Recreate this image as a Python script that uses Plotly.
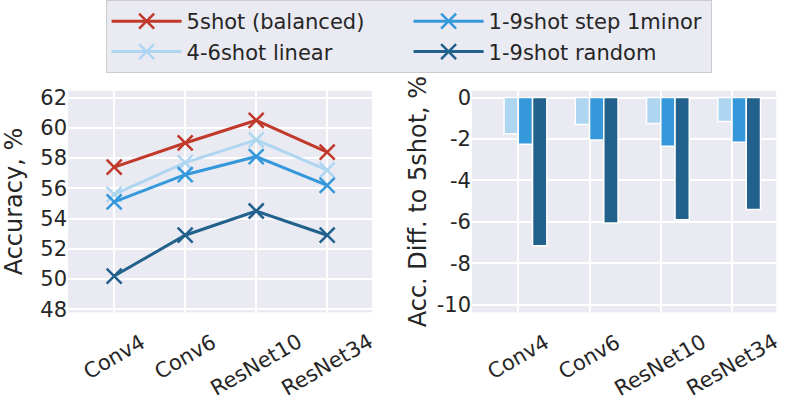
"""
accuracy vs backbone, imbalanced support sets
"""

import plotly.graph_objects as go

BG_CLR = "#eaeaf2"
TXT_CLR = "#262626"
FONT = "DejaVu Sans"

backbones = ["Conv4", "Conv6", "ResNet10", "ResNet34"]
series_names = ["5shot (balanced)", "4-6shot linear", "1-9shot step 1minor", "1-9shot random"]
series_colors = ["#c0392b", "#aed6f1", "#3498db", "#21618c"]

# left panel: accuracy, %
acc_5shot = [57.4, 59.0, 60.5, 58.4]
acc_4_6_linear = [55.6, 57.7, 59.2, 57.2]
acc_1_9_step = [55.1, 56.9, 58.1, 56.2]
acc_1_9_random = [50.2, 52.9, 54.5, 52.9]

# right panel: difference to 5shot, %
diff_5shot = [0, 0, 0, 0]
diff_4_6_linear = [-1.75, -1.3, -1.25, -1.15]
diff_1_9_step = [-2.25, -2.05, -2.35, -2.15]
diff_1_9_random = [-7.15, -6.05, -5.9, -5.4]

acc_ticks = [48, 50, 52, 54, 56, 58, 60, 62]
diff_ticks = [-10, -8, -6, -4, -2, 0]

acc_series = [acc_5shot, acc_4_6_linear, acc_1_9_step, acc_1_9_random]
diff_series = [diff_5shot, diff_4_6_linear, diff_1_9_step, diff_1_9_random]
legend_rank = [1, 3, 2, 4]  # matplotlib ncol=2 fills column-wise


def build_figure():
    fig = go.Figure()

    for name, clr, vals, rank in zip(series_names, series_colors, acc_series, legend_rank):
        fig.add_trace(
            go.Scatter(
                x=backbones,
                y=vals,
                name=name,
                mode="lines+markers",
                line=dict(color=clr, width=3),
                marker=dict(symbol="x-thin", size=15, line=dict(color=clr, width=2.5)),
                legendrank=rank,
                xaxis="x",
                yaxis="y",
            )
        )

    for name, clr, vals in zip(series_names, series_colors, diff_series):
        fig.add_trace(
            go.Bar(
                x=backbones,
                y=vals,
                name=name,
                marker=dict(color=clr, line=dict(color="white", width=1.5 if name != series_names[0] else 0)),
                showlegend=False,
                xaxis="x2",
                yaxis="y2",
            )
        )

    axis_common = dict(
        showgrid=True,
        gridcolor="white",
        gridwidth=2,
        zeroline=False,
        showline=False,
        ticks="",
        tickfont=dict(family=FONT, size=21, color=TXT_CLR),
    )

    fig.update_layout(
        width=788,
        height=409,
        margin=dict(t=0, b=0, l=0, r=0),
        paper_bgcolor="white",
        plot_bgcolor=BG_CLR,
        font=dict(family=FONT, color=TXT_CLR),
        barmode="group",
        bargap=0.2,
        bargroupgap=0,
        xaxis=dict(
            axis_common,
            domain=[0.0863, 0.472],
            type="category",
            range=[-0.65, 3.63],
            showticklabels=False,
            anchor="y",
        ),
        yaxis=dict(
            axis_common,
            domain=[0.2225, 0.7848],
            range=[47.8, 62.45],
            tickvals=acc_ticks,
            ticktext=[str(t) for t in acc_ticks],
            title=dict(text="Accuracy, %", font=dict(family=FONT, size=24, color=TXT_CLR), standoff=12),
            anchor="x",
        ),
        xaxis2=dict(
            axis_common,
            domain=[0.599, 0.985],
            type="category",
            range=[-0.65, 3.62],
            showticklabels=False,
            anchor="y2",
        ),
        yaxis2=dict(
            axis_common,
            domain=[0.2225, 0.7848],
            range=[-10.37, 0.33],
            tickvals=diff_ticks,
            ticktext=[str(t) for t in diff_ticks],
            title=dict(text="Acc. Diff. to 5shot, %", font=dict(family=FONT, size=24, color=TXT_CLR), standoff=3),
            anchor="x2",
        ),
        legend=dict(
            orientation="h",
            x=0.134,
            y=1.015,
            xanchor="left",
            yanchor="top",
            bgcolor=BG_CLR,
            bordercolor="#cccccc",
            borderwidth=1,
            entrywidth=217,
            entrywidthmode="pixels",
            font=dict(family=FONT, size=21, color=TXT_CLR),
            itemwidth=70,
        ),
    )

    # rotated, centred category labels (matplotlib style rotation=30)
    for xref in ["x", "x2"]:
        for name in backbones:
            fig.add_annotation(
                x=name,
                xref=xref,
                y=0.185,
                yref="paper",
                text=name,
                showarrow=False,
                textangle=-30,
                xanchor="center",
                yanchor="top",
                font=dict(family=FONT, size=21, color=TXT_CLR),
            )

    return fig


def main():
    fig = build_figure()
    fig.write_html(
        "out.html",
        config={"displayModeBar": False},
        post_script="document.body.style.margin='0';",
    )


if __name__ == "__main__":
    main()
